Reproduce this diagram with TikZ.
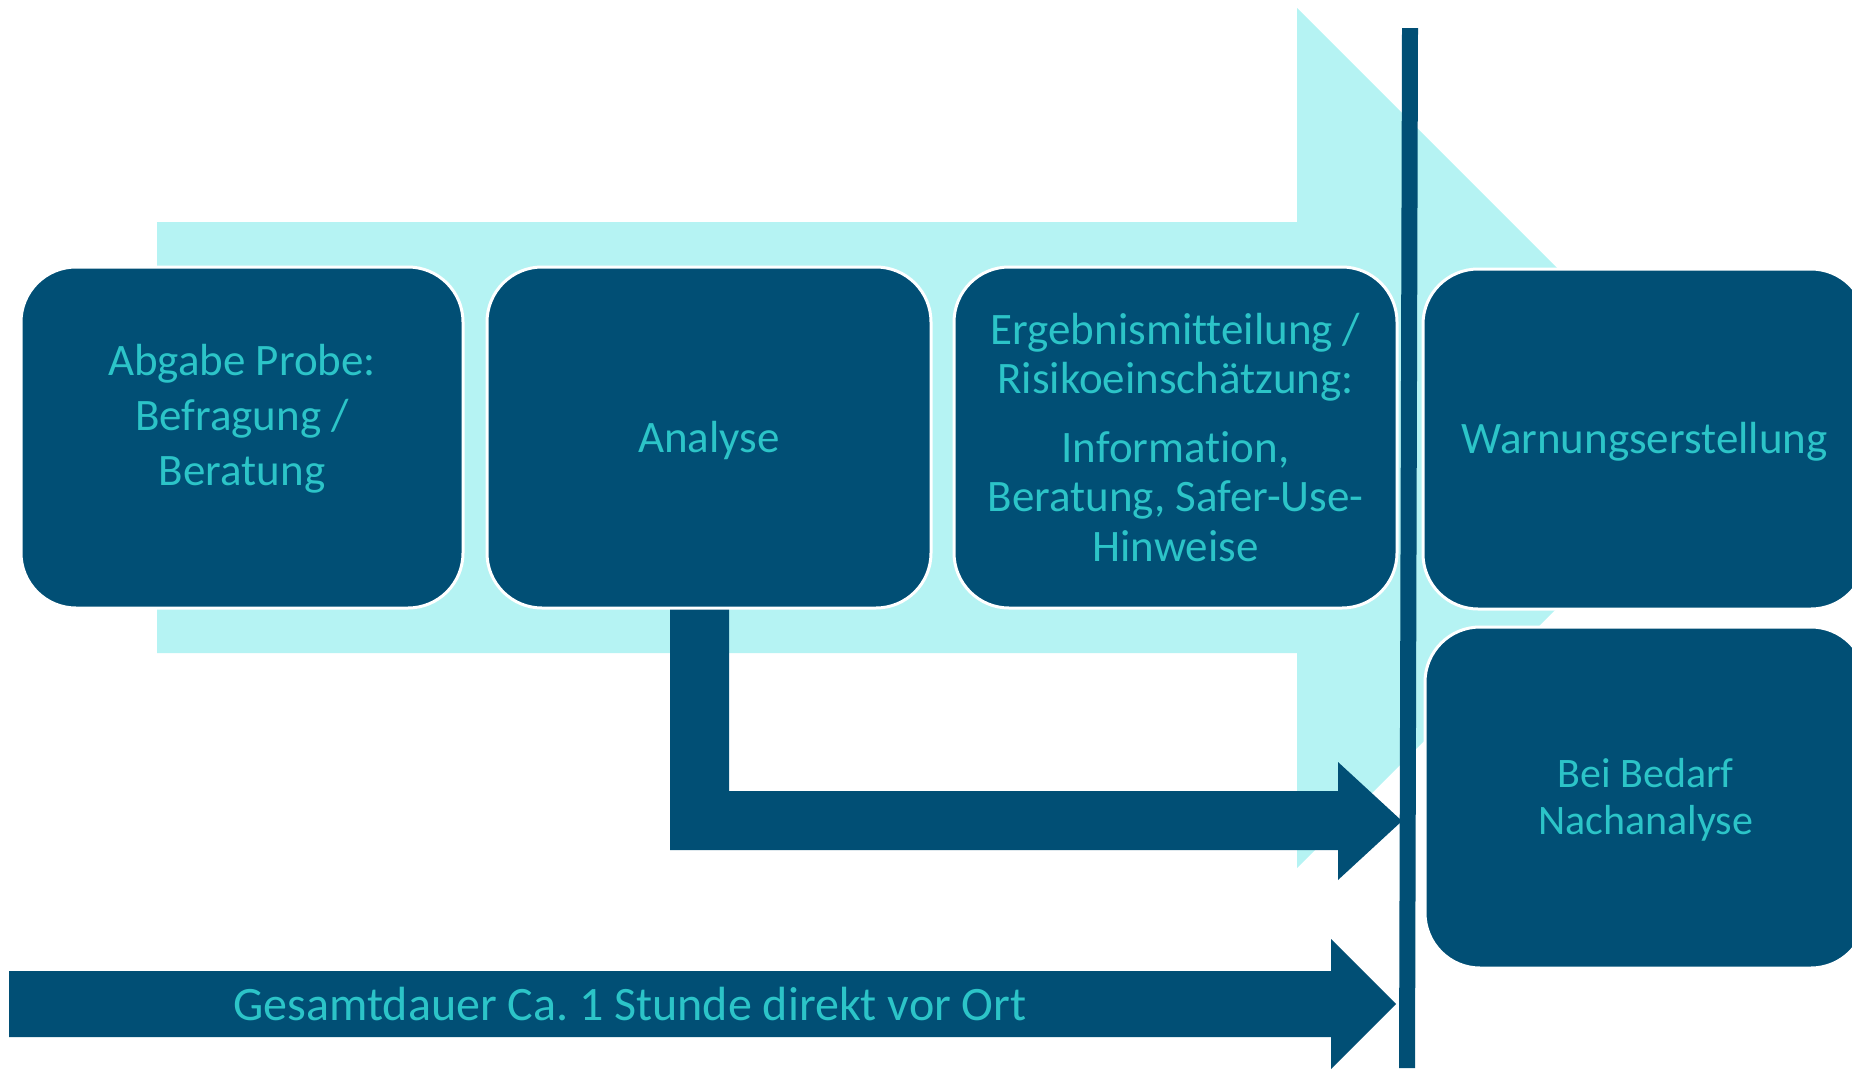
\documentclass[tikz,border=0pt]{standalone}
\usepackage{fontspec}
\setmainfont[Ligatures={NoCommon,NoRequired,NoContextual}]{Carlito}
\definecolor{dkblue}{HTML}{014F75}
\definecolor{ltcyan}{HTML}{B5F3F3}
\definecolor{tqtext}{HTML}{2CC4C8}
\frenchspacing
\begin{document}
\begin{tikzpicture}[x=1pt,y=-1pt,
  box/.style={draw=white, line width=3pt, fill=dkblue, rounded corners=55pt,
    inner sep=0pt, minimum width=443pt, minimum height=341pt},
  lbl/.style={text=tqtext, align=center, inner sep=0pt, font=\fontsize{45}{54.9}\selectfont},
  bigarrow/.style={fill=ltcyan},
  darkshape/.style={fill=dkblue}]
\useasboundingbox (0,0) rectangle (1852,1068);
\clip (0,0) rectangle (1852,1068);
% background process arrow
\fill[bigarrow] (157,222) -- (1297,222) -- (1297,8) -- (1727,438) -- (1297,868) -- (1297,653) -- (157,653) -- cycle;
% L-shaped arrow from Analyse
\fill[darkshape] (670,600) -- (729,600) -- (729,791) -- (1338,791) -- (1338,762) -- (1402,821) -- (1338,880) -- (1338,850) -- (670,850) -- cycle;
% bottom duration arrow
\fill[darkshape] (9,971) -- (1331,971) -- (1331,939) -- (1396,1004) -- (1331,1069) -- (1331,1037) -- (9,1037) -- cycle;
\node[lbl, font=\fontsize{48}{58}\selectfont] (gt) at (630,1004) {Gesamtdauer Ca. 1 Stunde direkt vor Ort};
% boxes
\node[box, minimum width=442pt] (b1) at (242,437.5) {};
\node[lbl, yshift=-5pt] (t1) at (b1.center) {Abgabe Probe:\\Befragung /\\Beratung\\\mbox{}};
\node[box, minimum width=444pt] (b2) at (709,437.5) {};
\node[lbl, yshift=-2.5pt] (t2) at (b2.center) {Analyse};
\node[box] (b3) at (1175.5,437.5) {};
\node[lbl, font=\fontsize{45}{49.5}\selectfont] (t3) at (b3.center) {Ergebnismitteilung /\\Risikoeinschätzung:\\[19pt]Information,\\Beratung, Safer-Use-\\Hinweise};
% vertical divider
\fill[darkshape] (1402,28) -- (1418,28) -- (1415,1068) -- (1399,1068) -- cycle;
\node[box, minimum height=340pt] (b4) at (1644.5,439) {};
\node[lbl, yshift=-2.5pt] (t4) at (b4.center) {Warnungserstellung};
\node[box, minimum width=441pt] (b5) at (1645.5,797.5) {};
\node[lbl, yshift=-2.5pt, font=\fontsize{42}{46.5}\selectfont] (t5) at (b5.center) {Bei Bedarf\\Nachanalyse};
\end{tikzpicture}
\end{document}
